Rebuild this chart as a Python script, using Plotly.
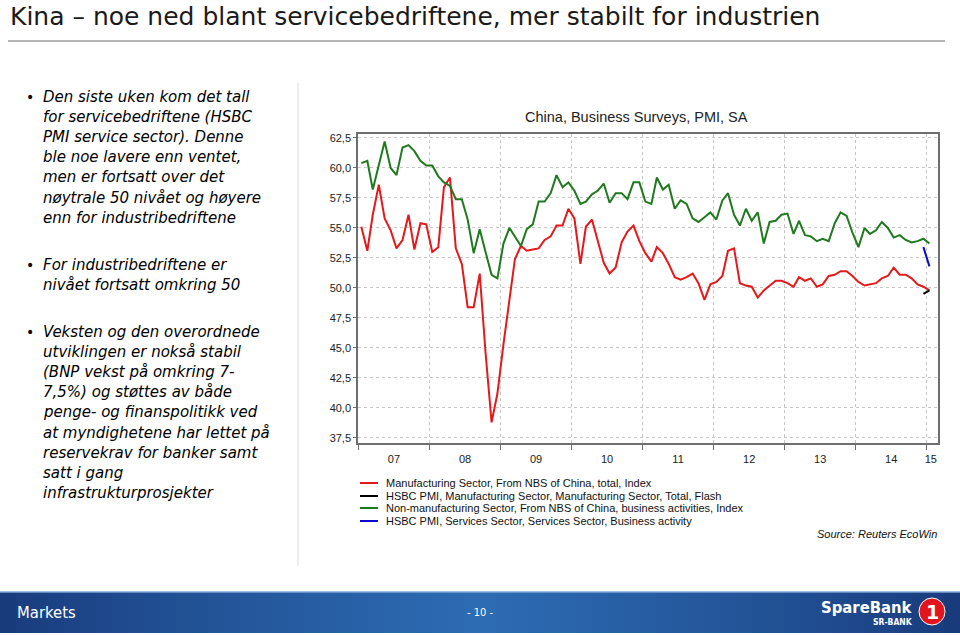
import plotly.graph_objects as go

# ---------------- data ----------------
years = list(range(2007, 2016))
months = [f"{y}-{m:02d}-15" for y in range(2007, 2015) for m in range(1, 13)] + ["2015-01-15"]

nbs_manufacturing = [
    55.1, 53.1, 56.1, 58.6, 55.8, 54.8, 53.3, 54.0, 56.1, 53.2, 55.4, 55.3,
    53.0, 53.4, 58.4, 59.2, 53.3, 52.0, 48.4, 48.4, 51.2, 44.6, 38.8, 41.2,
    45.3, 49.0, 52.4, 53.5, 53.1, 53.2, 53.3, 54.0, 54.3, 55.2, 55.2, 56.6,
    55.8, 52.0, 55.1, 55.7, 53.9, 52.1, 51.2, 51.7, 53.8, 54.7, 55.2, 53.9,
    52.9, 52.2, 53.4, 52.9, 52.0, 50.9, 50.7, 50.9, 51.2, 50.4, 49.0, 50.3,
    50.5, 51.0, 53.1, 53.3, 50.4, 50.2, 50.1, 49.2, 49.8, 50.2, 50.6, 50.6,
    50.4, 50.1, 50.9, 50.6, 50.8, 50.1, 50.3, 51.0, 51.1, 51.4, 51.4, 51.0,
    50.5, 50.2, 50.3, 50.4, 50.8, 51.0, 51.7, 51.1, 51.1, 50.8, 50.3, 50.1,
    49.8,
]
nbs_non_manufacturing = [
    60.4, 60.6, 58.2, 60.3, 62.2, 60.0, 59.4, 61.7, 61.9, 61.4, 60.6, 60.2,
    60.2, 59.3, 58.8, 58.5, 57.4, 57.4, 55.7, 52.9, 54.9, 53.0, 51.1, 50.8,
    53.7, 55.0, 54.3, 53.5, 54.9, 55.3, 57.2, 57.2, 57.9, 59.4, 58.4, 58.8,
    58.1, 57.0, 57.2, 57.8, 58.1, 58.7, 57.1, 57.9, 57.9, 57.4, 58.8, 58.8,
    57.2, 57.0, 59.2, 58.2, 58.6, 56.6, 57.3, 57.0, 55.8, 55.5, 55.9, 56.3,
    55.7, 57.3, 57.9, 56.1, 55.2, 56.6, 55.6, 56.3, 53.7, 55.5, 55.6, 56.1,
    56.2, 54.5, 55.6, 54.4, 54.3, 53.9, 54.1, 53.9, 55.4, 56.3, 56.0, 54.6,
    53.4, 55.0, 54.5, 54.8, 55.5, 55.0, 54.2, 54.4, 54.0, 53.8, 53.9, 54.1,
    53.7,
]
hsbc_months = ["2014-12-15", "2015-01-15"]
hsbc_manufacturing_flash = [49.5, 49.8]
hsbc_services = [53.4, 51.8]

series_names = [
    "Manufacturing Sector, From NBS of China, total, Index",
    "HSBC PMI, Manufacturing Sector, Manufacturing Sector, Total, Flash",
    "Non-manufacturing Sector, From NBS of China, business activities, Index",
    "HSBC PMI, Services Sector, Services Sector, Business activity",
]
series_colors = ["#e3191c", "#000000", "#1f7a1f", "#0a0ad0"]

y_ticks = [37.5, 40.0, 42.5, 45.0, 47.5, 50.0, 52.5, 55.0, 57.5, 60.0, 62.5]
x_label_text = ["07", "08", "09", "10", "11", "12", "13", "14", "15"]
x_label_pos = [f"{y}-07-02" for y in range(2007, 2015)] + ["2015-01-22"]
year_starts = [f"{y}-01-01" for y in years]

title_text = "Kina – noe ned blant servicebedriftene, mer stabilt for industrien"
chart_title = "China, Business Surveys, PMI, SA"
bullets = [
    ["Den siste uken kom det tall", "for servicebedriftene (HSBC", "PMI service sector). Denne",
     "ble noe lavere enn ventet,", "men er fortsatt over det", "nøytrale 50 nivået og høyere",
     "enn for industribedriftene"],
    ["For industribedriftene er", "nivået fortsatt omkring 50"],
    ["Veksten og den overordnede", "utviklingen er nokså stabil", "(BNP vekst på omkring 7-",
     "7,5%) og støttes av både", "penge- og finanspolitikk ved", "at myndighetene har lettet på",
     "reservekrav for banker samt", "satt i gang", "infrastrukturprosjekter"],
]

# ---------------- layout helpers ----------------
FW, FH = 960, 635
PL, PR, PT, PB = 358, 938, 134, 443


def px(x):
    return (x - PL) / (PR - PL)


def py(y):
    return (PB - y) / (PB - PT)


fig = go.Figure()
fig.add_trace(go.Scatter(x=months, y=nbs_manufacturing, mode="lines", name=series_names[0],
                         line=dict(color=series_colors[0], width=2)))
fig.add_trace(go.Scatter(x=months, y=nbs_non_manufacturing, mode="lines", name=series_names[2],
                         line=dict(color=series_colors[2], width=2)))
fig.add_trace(go.Scatter(x=hsbc_months, y=hsbc_services, mode="lines", name=series_names[3],
                         line=dict(color=series_colors[3], width=2)))
fig.add_trace(go.Scatter(x=hsbc_months, y=hsbc_manufacturing_flash, mode="lines", name=series_names[1],
                         line=dict(color=series_colors[1], width=2)))

annotations = []
shapes = []

# slide title + underline
annotations.append(dict(text=title_text, x=px(8), y=py(16), xref="paper", yref="paper",
                        xanchor="left", yanchor="middle", showarrow=False,
                        font=dict(family="DejaVu Sans", size=25, color="#1a1a1a")))
shapes.append(dict(type="line", xref="paper", yref="paper", x0=px(8), x1=px(945), y0=py(41), y1=py(41),
                   line=dict(color="#b4b4b4", width=2)))
# separator
shapes.append(dict(type="line", xref="paper", yref="paper", x0=px(298), x1=px(298), y0=py(83), y1=py(566),
                   line=dict(color="#dedede", width=1)))

# bullets
bullet_tops = [97, 265, 332]
for top, lines in zip(bullet_tops, bullets):
    annotations.append(dict(text="•", x=px(30), y=py(top), xref="paper", yref="paper",
                            xanchor="center", yanchor="middle", showarrow=False,
                            font=dict(family="DejaVu Sans", size=14, color="#000")))
    for i, line in enumerate(lines):
        annotations.append(dict(text="<i>" + line + "</i>", x=px(41), y=py(top + 20.1 * i),
                                xref="paper", yref="paper", xanchor="left", yanchor="middle", align="left",
                                showarrow=False, font=dict(family="DejaVu Sans", size=15, color="#000")))

# chart title
annotations.append(dict(text=chart_title, x=px(636), y=py(117), xref="paper", yref="paper",
                        xanchor="center", yanchor="middle", showarrow=False,
                        font=dict(family="Liberation Sans", size=14.5, color="#222")))

# legend (manual, compact)
legend_rows = [483, 496, 508, 521]
for row, name, col in zip(legend_rows, series_names, series_colors):
    shapes.append(dict(type="line", xref="paper", yref="paper", x0=px(360), x1=px(378), y0=py(row), y1=py(row),
                       line=dict(color=col, width=2)))
    annotations.append(dict(text=name, x=px(384), y=py(row), xref="paper", yref="paper",
                            xanchor="left", yanchor="middle", showarrow=False,
                            font=dict(family="Liberation Sans", size=11, color="#111")))

annotations.append(dict(text="<i>Source: Reuters EcoWin</i>", x=px(939), y=py(534), xref="paper", yref="paper",
                        xanchor="right", yanchor="middle", showarrow=False,
                        font=dict(family="Liberation Sans", size=11, color="#111")))

# footer band with horizontal gradient
n_strips = 60
left_c = (24, 58, 122)
mid_c = (46, 108, 180)
for i in range(n_strips):
    t = (i + 0.5) / n_strips
    w = 1 - abs(t - 0.5) * 2
    w = w ** 0.8
    c = tuple(int(left_c[k] + (mid_c[k] - left_c[k]) * w) for k in range(3))
    shapes.append(dict(type="rect", xref="paper", yref="paper",
                       x0=px(FW * i / n_strips), x1=px(FW * (i + 1) / n_strips + 0.6),
                       y0=py(633), y1=py(592), line=dict(width=0), fillcolor=f"rgb{c}", layer="below"))
shapes.append(dict(type="line", xref="paper", yref="paper", x0=px(0), x1=px(FW), y0=py(592), y1=py(592),
                   line=dict(color="#7fa6d6", width=1.5)))
annotations.append(dict(text="Markets", x=px(15), y=py(612), xref="paper", yref="paper",
                        xanchor="left", yanchor="middle", showarrow=False,
                        font=dict(family="DejaVu Sans Condensed", size=16.5, color="#ffffff")))
annotations.append(dict(text="- 10 -", x=px(480), y=py(612), xref="paper", yref="paper",
                        xanchor="center", yanchor="middle", showarrow=False,
                        font=dict(family="DejaVu Sans Condensed", size=11, color="#ffffff")))
annotations.append(dict(text="<b>SpareBank</b>", x=px(915), y=py(607), xref="paper", yref="paper",
                        xanchor="right", yanchor="middle", showarrow=False,
                        font=dict(family="DejaVu Sans Condensed", size=16.5, color="#ffffff")))
annotations.append(dict(text="<b>SR-BANK</b>", x=px(915), y=py(621.5), xref="paper", yref="paper",
                        xanchor="right", yanchor="middle", showarrow=False,
                        font=dict(family="DejaVu Sans Condensed", size=8.5, color="#ffffff")))
shapes.append(dict(type="circle", xref="paper", yref="paper", x0=px(919), x1=px(945), y0=py(625), y1=py(598),
                   line=dict(color="#ffffff", width=1), fillcolor="#e2151f"))
annotations.append(dict(text="<b>1</b>", x=px(932), y=py(611.5), xref="paper", yref="paper",
                        xanchor="center", yanchor="middle", showarrow=False,
                        font=dict(family="DejaVu Sans", size=19, color="#ffffff")))

fig.update_layout(
    width=FW, height=FH,
    margin=dict(l=PL, r=FW - PR, t=PT, b=FH - PB, pad=0),
    paper_bgcolor="white", plot_bgcolor="white",
    showlegend=False,
    separators=", ",
    annotations=annotations,
    shapes=shapes,
    xaxis=dict(
        type="date", range=["2006-12-29", "2015-02-28"],
        tickmode="array", tickvals=x_label_pos, ticktext=x_label_text,
        ticks="", showgrid=False, ticklabelstandoff=5,
        tickfont=dict(family="Liberation Sans", size=11, color="#222"),
        showline=True, linecolor="#6e6e6e", linewidth=1.5, mirror=True,
        minor=dict(tickmode="array", tickvals=year_starts, ticks="outside", ticklen=5,
                   tickcolor="#6e6e6e", tickwidth=1, showgrid=True, gridcolor="#c6c6c6",
                   gridwidth=1, griddash="dot"),
        zeroline=False,
    ),
    yaxis=dict(
        range=[37.08, 62.83], tickmode="array", tickvals=y_ticks, tickformat=".1f",
        ticks="outside", ticklen=3, tickcolor="#6e6e6e",
        tickfont=dict(family="Liberation Sans", size=11, color="#222"),
        showgrid=True, gridcolor="#c6c6c6", gridwidth=1, griddash="dot",
        showline=True, linecolor="#6e6e6e", linewidth=1.5, mirror=True,
        zeroline=False,
    ),
)

fig.write_html("out.html", config={"displayModeBar": False},
               post_script="document.body.style.margin='0';document.body.style.overflow='hidden';")
